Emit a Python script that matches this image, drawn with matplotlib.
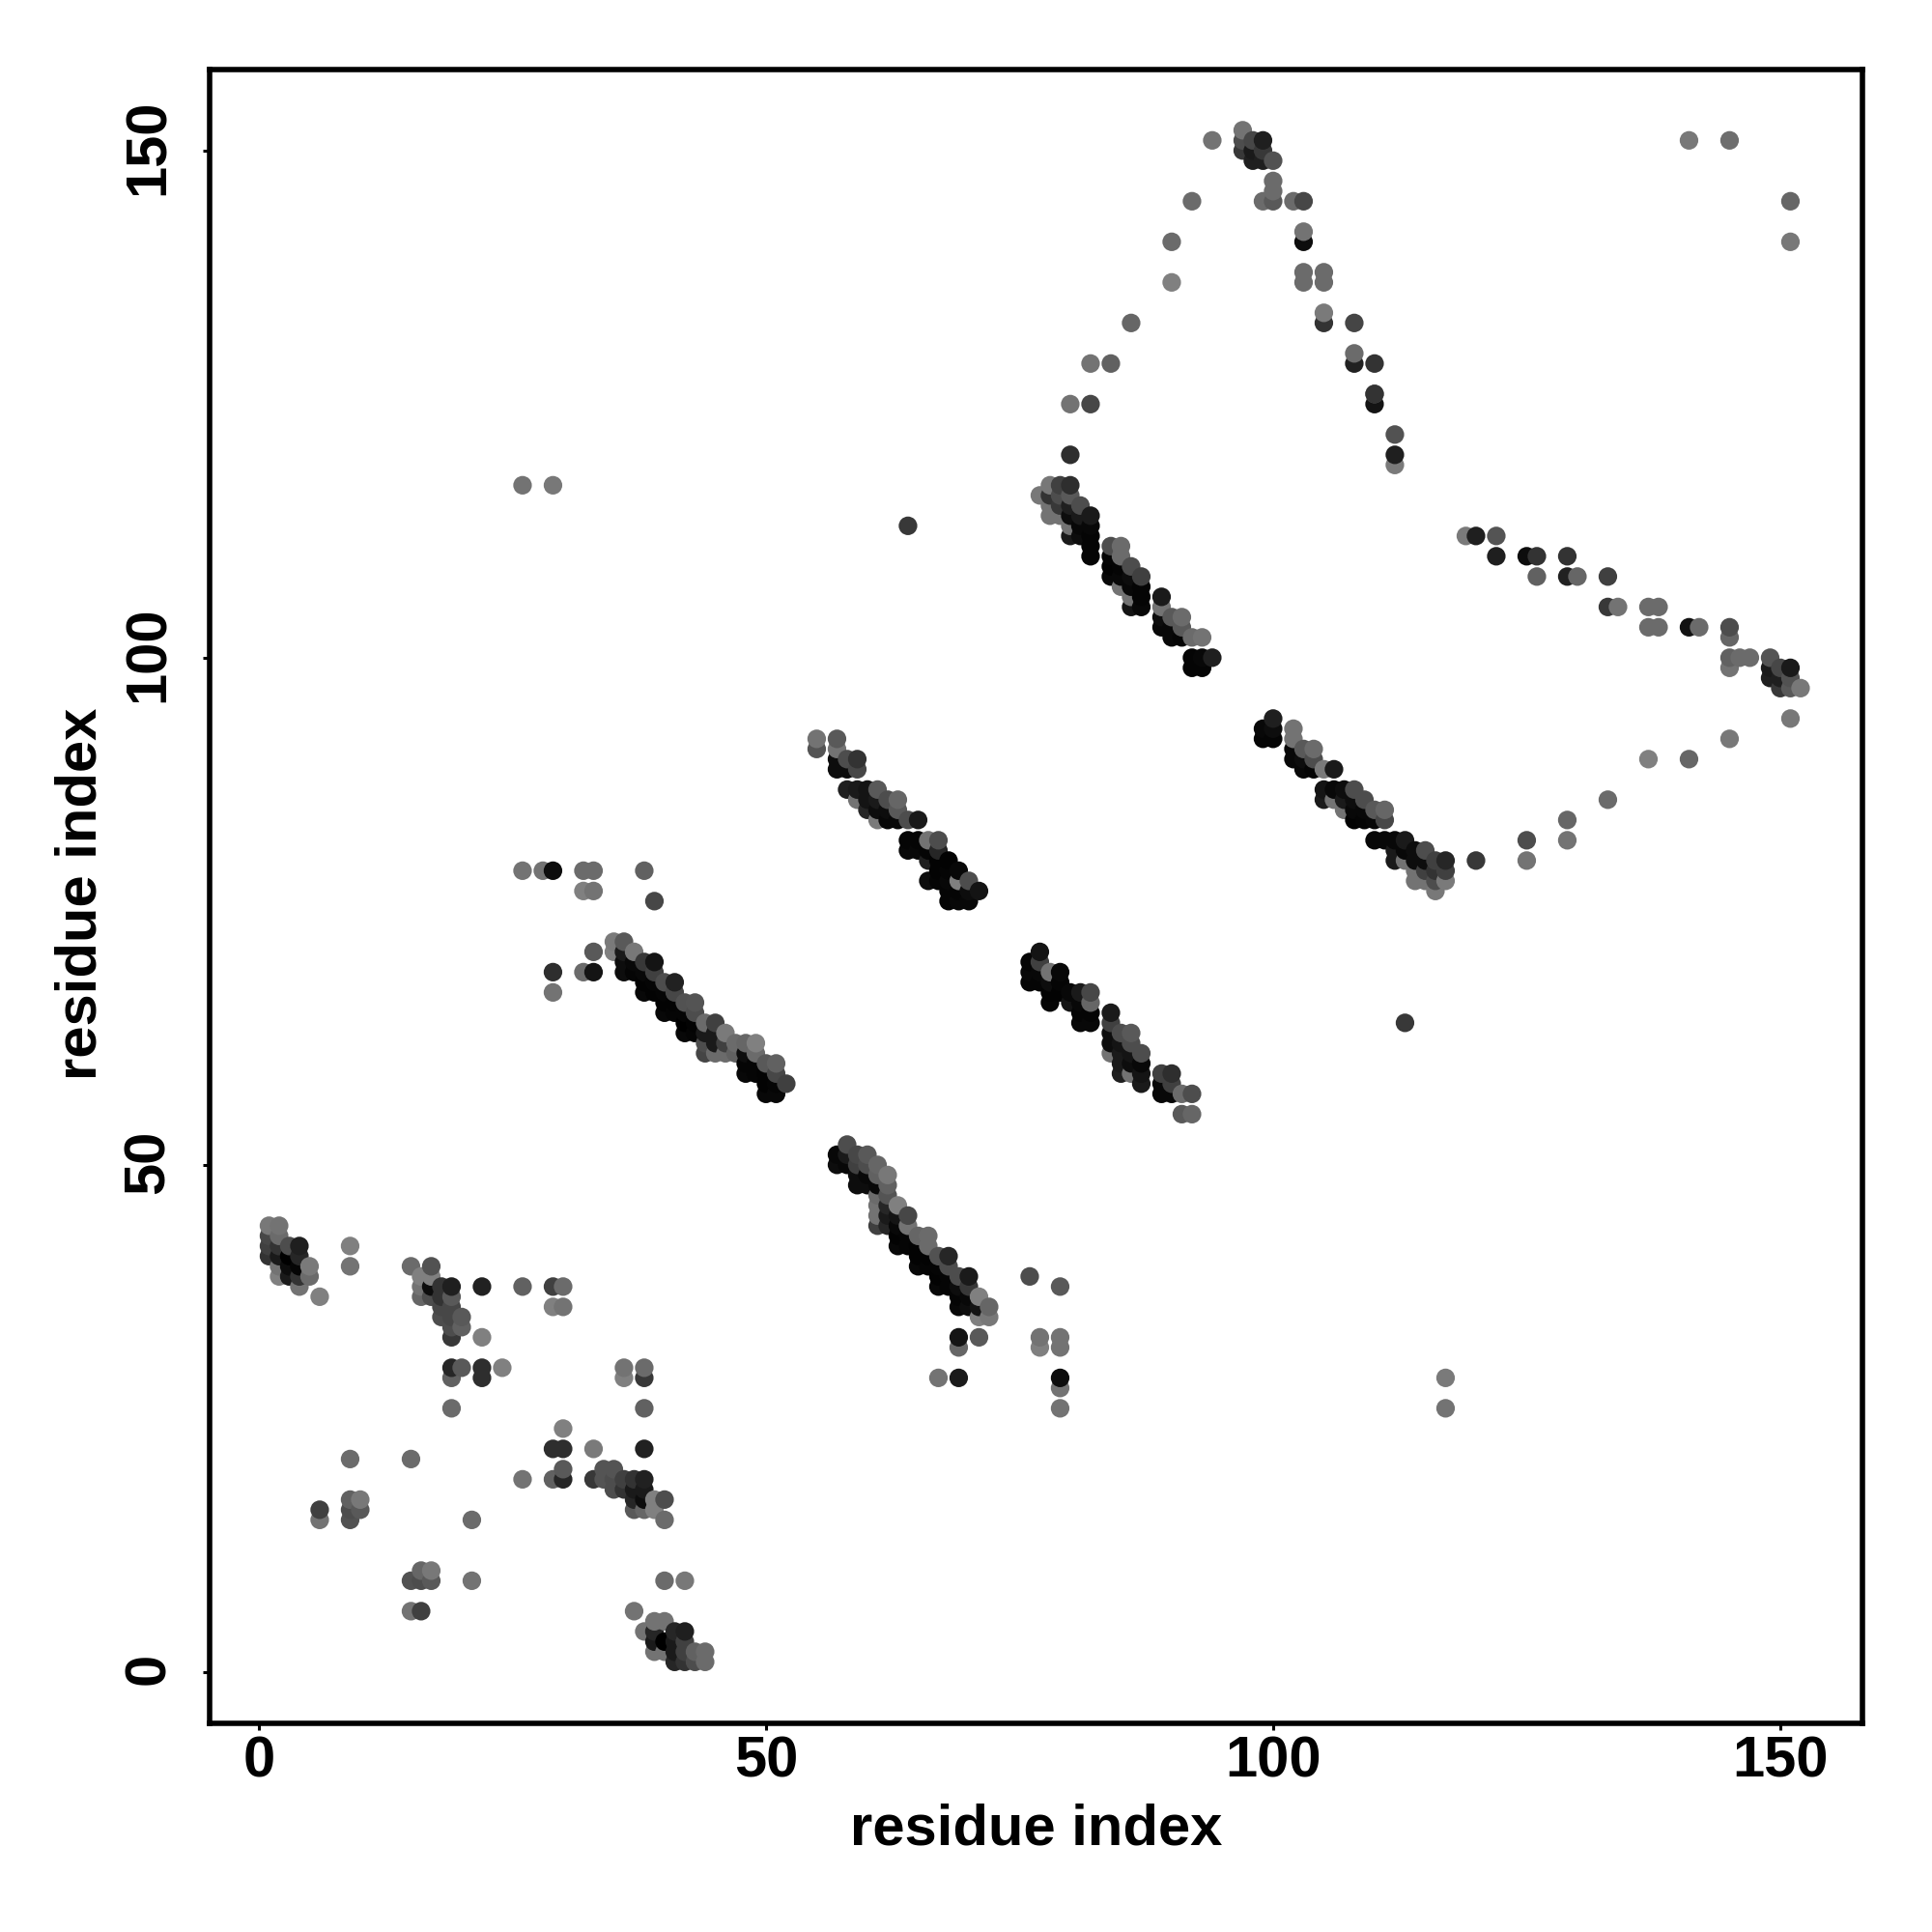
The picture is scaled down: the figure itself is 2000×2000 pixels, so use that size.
import numpy as np
import matplotlib
matplotlib.use("Agg")
import matplotlib.pyplot as plt
from matplotlib.transforms import ScaledTranslation

# gray level of each contact: 0 is black, 0.5 is mid gray
x_corner = [1, 2, 1, 2, 1, 2, 3, 4,
            1, 2, 3, 4, 2, 3, 4, 5,
            2, 3, 4, 5, 4, 6,
            9, 9]
y_corner = [44, 44, 43, 43, 42, 42, 42, 42,
            41, 41, 41, 41, 40, 40, 40, 40,
            39, 39, 39, 39, 38, 37,
            42, 40]
g_corner = [.47, .45, .28, .42, .25, .2, .3, .12,
            .2, .1, .0, .15, .45, .05, .02, .48,
            .5, .1, .2, .42, .45, .5,
            .5, .45]

x_low = [15, 17, 16, 17, 16, 17, 18, 19, 22, 26, 29, 30,
         16, 17, 18, 19, 18, 19, 29, 30, 18, 19, 20, 19, 20, 19, 22,
         19, 20, 22, 24, 19, 22, 19,
         36, 38, 36, 38, 38,
         30, 29, 30, 33, 38, 9, 15, 30, 34, 35,
         26, 29, 30, 33, 34, 35, 36, 37, 38,
         35, 36, 37, 38, 9, 10, 37, 38, 39, 40,
         6, 9, 10, 37, 38, 39, 6, 9, 21, 40]
y_low = [40, 40, 39, 39, 38, 38, 38, 38, 38, 38, 38, 38,
         37, 37, 37, 37, 36, 36, 36, 36, 35, 35, 35, 34, 34, 33, 33,
         30, 30, 30, 30, 29, 29, 26,
         30, 30, 29, 29, 26,
         24, 22, 22, 22, 22, 21, 21, 20, 20, 20,
         19, 19, 19, 19, 19, 19, 19, 19, 19,
         18, 18, 18, 18, 17, 17, 17, 17, 17, 17,
         16, 16, 16, 16, 16, 16, 15, 15, 15, 15]
g_low = [.42, .32, .5, .5, .45, .05, .2, .12, .13, .38, .25, .42,
         .4, .3, .2, .35, .28, .28, .5, .45, .3, .28, .35, .3, .38, .22, .5,
         .15, .35, .18, .5, .38, .18, .42,
         .45, .42, .5, .22, .38,
         .5, .18, .18, .48, .13, .42, .42, .35, .33, .33,
         .45, .38, .15, .22, .33, .3, .25, .2, .13,
         .3, .2, .1, .1, .38, .47, .15, .05, .5, .3,
         .25, .3, .35, .35, .4, .5, .45, .32, .42, .42]

x_turn = [16, 17, 15, 16, 17, 21, 40, 42, 15, 16, 37,
          39, 40, 38, 39, 41, 42, 39, 40, 41, 42,
          39, 40, 41, 42, 43, 44, 41, 42, 43, 44]
y_turn = [10, 10, 9, 9, 9, 9, 9, 9, 6, 6, 6,
          5, 5, 4, 4, 4, 4, 3, 3, 3, 3,
          2, 2, 2, 2, 2, 2, 1, 1, 1, 1]
g_turn = [.4, .47, .32, .3, .35, .45, .42, .47, .45, .25, .45,
          .45, .45, .45, .15, .15, .12, .1, .0, .1, .25,
          .45, .45, .1, .25, .38, .42, .15, .2, .3, .42]

x_helix1 = [35, 36, 35, 36, 37, 36, 37, 38, 39, 36, 37, 38, 39,
            38, 39, 40, 41, 38, 39, 40, 41, 40, 41, 42, 43, 40, 41, 42, 43,
            42, 43, 44, 45, 42, 43, 44, 45, 46,
            44, 45, 46, 47, 48, 49, 44, 45, 46, 47, 48, 49,
            48, 49, 50, 51, 48, 49, 50, 51, 50, 51, 52, 50, 51,
            26, 28, 29, 32, 33, 38, 32, 33, 39, 33, 29, 29, 32, 33]
y_helix1 = [72, 72, 71, 71, 71, 70, 70, 70, 70, 69, 69, 69, 69,
            68, 68, 68, 68, 67, 67, 67, 67, 66, 66, 66, 66, 65, 65, 65, 65,
            64, 64, 64, 64, 63, 63, 63, 63, 63,
            62, 62, 62, 62, 62, 62, 61, 61, 61, 61, 61, 61,
            60, 60, 60, 60, 59, 59, 59, 59, 58, 58, 58, 57, 57,
            79, 79, 79, 79, 79, 79, 77, 77, 76, 71, 69, 67, 69, 69]
g_helix1 = [.48, .35, .5, .1, .47, .05, .03, .22, .08, .05, .02, .03, .25,
            .01, .02, .3, .13, .03, .01, .02, .28, .01, .01, .32, .33, .03, .02, .02, .3,
            .0, .01, .42, .25, .03, .02, .1, .1, .48,
            .3, .1, .25, .42, .4, .5, .27, .42, .42, .38, .05, .42,
            .02, .02, .35, .38, .03, .02, .01, .28, .01, .02, .25, .03, .03,
            .45, .45, .05, .42, .42, .38, .5, .45, .28, .35, .18, .45, .42, .08]

x_helix2 = [58, 57, 58, 59, 60, 57, 58, 59, 60, 61,
            59, 60, 61, 62, 59, 60, 61, 62, 61, 62, 61, 62, 63,
            61, 62, 63, 64, 61, 62, 63, 64, 63, 64, 65, 66, 63, 64, 65, 66,
            65, 66, 67, 68, 65, 66, 67, 68, 67, 68, 69, 70, 67, 68, 69, 70,
            69, 70, 71, 69, 70, 71, 72, 71, 72,
            69, 71, 69, 67, 69, 76, 79, 77, 79, 77, 79, 79, 79, 79, 117, 117]
y_helix2 = [52, 51, 51, 51, 51, 50, 50, 50, 50, 50,
            49, 49, 49, 49, 48, 48, 48, 48, 47, 47, 46, 46, 46,
            45, 45, 45, 45, 44, 44, 44, 44, 43, 43, 43, 43, 42, 42, 42, 42,
            41, 41, 41, 41, 40, 40, 40, 40, 39, 39, 39, 39, 38, 38, 38, 38,
            37, 37, 37, 36, 36, 36, 36, 35, 35,
            33, 33, 32, 29, 29, 39, 38, 33, 33, 32, 32, 29, 28, 26, 29, 26]
g_helix2 = [.3, .03, .1, .28, .35, .05, .03, .25, .3, .4,
            .05, .03, .38, .47, .05, .05, .03, .38, .42, .33, .45, .15, .5,
            .45, .1, .08, .28, .25, .15, .03, .45, .01, .02, .4, .42, .03, .02, .01, .42,
            .01, .01, .32, .15, .03, .02, .02, .3, .01, .02, .3, .1, .03, .02, .05, .22,
            .02, .03, .5, .03, .05, .08, .4, .5, .47,
            .08, .35, .4, .45, .1, .3, .35, .45, .45, .5, .45, .05, .45, .45, .48, .45]

x_helix3 = [55, 57, 55, 57, 57, 58, 59, 57, 58, 59,
            58, 59, 60, 61, 59, 60, 61, 62, 63, 60, 61, 62, 63,
            61, 62, 63, 64, 65, 64, 65, 66, 67, 64, 65, 66, 67,
            66, 67, 68, 67, 68, 69, 66, 67, 68, 69, 70,
            68, 69, 70, 71, 68, 69, 70, 64]
y_helix3 = [92, 92, 91, 91, 90, 90, 90, 89, 89, 89,
            87, 87, 87, 87, 86, 86, 86, 86, 86, 85, 85, 85, 85,
            84, 84, 84, 84, 84, 82, 82, 82, 82, 81, 81, 81, 81,
            80, 80, 80, 79, 79, 79, 78, 78, 78, 78, 78,
            77, 77, 77, 77, 76, 76, 76, 113]
g_helix3 = [.45, .35, .33, .45, .05, .3, .2, .05, .05, .28,
            .12, .1, .08, .35, .45, .08, .1, .3, .4, .15, .05, .05, .35,
            .48, .03, .03, .3, .1, .02, .02, .45, .3, .03, .03, .02, .15,
            .12, .01, .01, .01, .02, .03, .05, .02, .03, .5, .3,
            .02, .02, .05, .08, .02, .03, .03, .22]

x_helix4 = [77, 76, 77, 76, 77, 78, 79, 76, 77, 78, 79,
            78, 79, 80, 81, 82, 78, 80, 81, 82, 81, 82, 84, 81, 82, 84,
            84, 85, 86, 84, 85, 86, 84, 85, 86, 87, 85, 86, 87,
            85, 86, 87, 89, 90, 87, 89, 90, 89, 90, 91, 92, 91, 92, 113]
y_helix4 = [71, 70, 70, 69, 69, 69, 69, 68, 68, 68, 68,
            67, 67, 67, 67, 67, 66, 66, 66, 66, 65, 65, 65, 64, 64, 64,
            63, 63, 63, 62, 62, 62, 61, 61, 61, 61, 60, 60, 60,
            59, 59, 59, 59, 59, 58, 58, 58, 57, 57, 57, 57, 55, 55, 64]
g_helix4 = [.08, .02, .25, .03, .03, .45, .03, .02, .02, .05, .02,
            .01, .01, .03, .1, .28, .02, .08, .03, .4, .02, .02, .1, .03, .03, .25,
            .05, .3, .35, .05, .08, .3, .45, .1, .08, .3, .1, .05, .03,
            .12, .45, .08, .25, .18, .1, .03, .25, .03, .03, .42, .3, .35, .4, .22]

x_helix5 = [78, 79, 80, 77, 78, 79, 80, 78, 79, 80, 81,
            78, 79, 80, 81, 82, 80, 81, 82, 80, 81, 82,
            82, 84, 85, 82, 84, 85, 84, 85, 86, 84, 85, 86, 87,
            85, 86, 87, 86, 87, 89, 86, 87, 89,
            89, 90, 91, 89, 90, 91, 90, 91, 92, 93,
            92, 93, 94, 92, 93, 26, 29]
y_helix5 = [117, 117, 117, 116, 116, 116, 116, 115, 115, 115, 115,
            114, 114, 114, 114, 114, 113, 113, 113, 112, 112, 112,
            111, 111, 111, 110, 110, 110, 109, 109, 109, 108, 108, 108, 108,
            107, 107, 107, 106, 106, 106, 105, 105, 105,
            104, 104, 104, 103, 103, 103, 102, 102, 102, 102,
            100, 100, 100, 99, 99, 117, 117]
g_helix5 = [.47, .25, .18, .47, .2, .3, .35, .45, .22, .12, .3,
            .45, .45, .05, .1, .1, .45, .03, .03, .1, .05, .02,
            .02, .3, .42, .02, .02, .42, .01, .02, .3, .03, .03, .05, .25,
            .45, .03, .02, .45, .02, .1, .08, .03, .45,
            .05, .35, .42, .03, .03, .35, .03, .02, .42, .45,
            .02, .03, .12, .02, .02, .45, .47]

x_helix6 = [100, 99, 100, 102, 99, 100, 102, 102, 103, 104, 102, 103, 104,
            103, 104, 105, 106, 105, 106, 107, 108, 105, 106, 107, 108, 109,
            107, 108, 109, 110, 111, 108, 109, 110, 111,
            110, 111, 112, 113, 112, 113, 114, 115,
            112, 113, 114, 115, 116, 117, 114, 115, 116, 117, 116, 120]
y_helix6 = [94, 93, 93, 93, 92, 92, 92, 91, 91, 91, 90, 90, 90,
            89, 89, 89, 89, 87, 87, 87, 87, 86, 86, 86, 86, 86,
            85, 85, 85, 85, 85, 84, 84, 84, 84,
            82, 82, 82, 82, 81, 81, 81, 81,
            80, 80, 80, 80, 80, 80, 79, 79, 79, 79, 77, 80]
g_helix6 = [.12, .03, .05, .45, .02, .02, .45, .03, .35, .42, .03, .05, .3,
            .03, .02, .48, .1, .08, .03, .05, .3, .1, .45, .1, .05, .3,
            .45, .03, .03, .35, .4, .01, .02, .03, .28,
            .03, .03, .03, .1, .1, .03, .05, .3,
            .1, .45, .05, .05, .25, .15, .45, .25, .2, .25, .47, .22]
# row y=78 under the last helix is kept apart so the light tail stays readable
x_tail = [114, 115, 116, 117]
y_tail = [78, 78, 78, 78]
g_tail = [.45, .45, .3, .48]

x_top = [97, 97, 98, 99, 97, 98, 99, 98, 99, 100, 100, 100,
         99, 100, 102, 103, 103, 103, 103, 105, 103, 105,
         105, 105, 108, 108, 110, 108, 110, 110, 110, 112, 112, 112,
         94, 92, 90, 90, 86, 82, 84, 80, 82, 80, 141, 145, 151, 151]
y_top = [152, 151, 151, 151, 150, 150, 150, 149, 149, 149, 147, 146,
         145, 145, 145, 145, 142, 141, 138, 138, 137, 137,
         134, 133, 133, 130, 129, 129, 126, 126, 125, 122, 120, 119,
         151, 145, 141, 137, 133, 129, 129, 125, 125, 120, 151, 151, 145, 141]
g_top = [.45, .3, .28, .12, .22, .1, .22, .12, .12, .32, .42, .42,
         .42, .35, .42, .28, .45, .05, .42, .42, .42, .42,
         .48, .2, .27, .42, .2, .13, .4, .2, .08, .32, .12, .48,
         .45, .42, .42, .5, .4, .45, .38, .45, .28, .18, .47, .43, .4, .47]

x_right = [119, 120, 122, 122, 125, 126, 129, 126, 129, 130, 133,
           133, 134, 137, 138, 137, 138, 141, 142, 145, 145,
           145, 146, 147, 145, 149, 149, 150, 151, 149, 150, 151, 150, 151, 152,
           151, 145, 137, 141, 133, 129, 129, 125, 125]
y_right = [112, 112, 112, 110, 110, 110, 110, 108, 108, 108, 108,
           105, 105, 105, 105, 103, 103, 103, 103, 103, 102,
           100, 100, 100, 99, 100, 99, 99, 99, 98, 98, 98, 97, 97, 97,
           94, 92, 90, 90, 86, 84, 82, 82, 80]
g_right = [.48, .12, .33, .12, .05, .2, .2, .38, .13, .4, .25,
           .22, .45, .42, .42, .42, .42, .07, .42, .3, .4,
           .38, .42, .42, .45, .33, .1, .28, .1, .12, .12, .32, .22, .35, .47,
           .47, .47, .5, .4, .42, .4, .45, .3, .45]

xs = np.concatenate([x_corner, x_low, x_turn, x_helix1, x_helix2, x_helix3, x_helix4,
                     x_helix5, x_helix6, x_tail, x_top, x_right])
ys = np.concatenate([y_corner, y_low, y_turn, y_helix1, y_helix2, y_helix3, y_helix4,
                     y_helix5, y_helix6, y_tail, y_top, y_right])
gs = np.concatenate([g_corner, g_low, g_turn, g_helix1, g_helix2, g_helix3, g_helix4,
                     g_helix5, g_helix6, g_tail, g_top, g_right])

tick_values = [0, 50, 100, 150]

plt.rcParams["font.family"] = ["Liberation Sans", "DejaVu Sans"]
plt.rcParams["font.weight"] = "bold"

fig = plt.figure(figsize=(20, 20), dpi=100)
ax = fig.add_axes([216.7 / 2000, 1 - 1783.7 / 2000, (1928 - 216.7) / 2000, (1783.7 - 71.5) / 2000])

# drawn column by column, upper point last, as the overlaps show
order = np.lexsort((ys, xs))
ax.scatter(xs[order], ys[order], s=192, c=[str(g) for g in gs[order]], linewidths=0, zorder=3)

ax.set_xlim(-4.88, 158.1)
ax.set_ylim(-5.03, 158.03)
ax.set_xticks(tick_values)
ax.set_yticks(tick_values)
ax.tick_params(axis="both", length=5, width=2.2, labelsize=43, color="black")
ax.tick_params(axis="x", pad=4)
ax.tick_params(axis="y", pad=20)
nudge_up = ScaledTranslation(0, 2.3 / 72, fig.dpi_scale_trans)
for label in ax.get_yticklabels():
    label.set_rotation(90)
    label.set_va("center")
    label.set_transform(label.get_transform() + nudge_up)
for side in ax.spines.values():
    side.set_linewidth(4)

ax.set_xlabel("residue index", fontsize=43, fontweight="bold", labelpad=11)
ax.set_ylabel("residue index", fontsize=43, fontweight="bold", labelpad=11)
ax.yaxis.label.set_y(0.5012)

fig.savefig("out.png", dpi=100)
